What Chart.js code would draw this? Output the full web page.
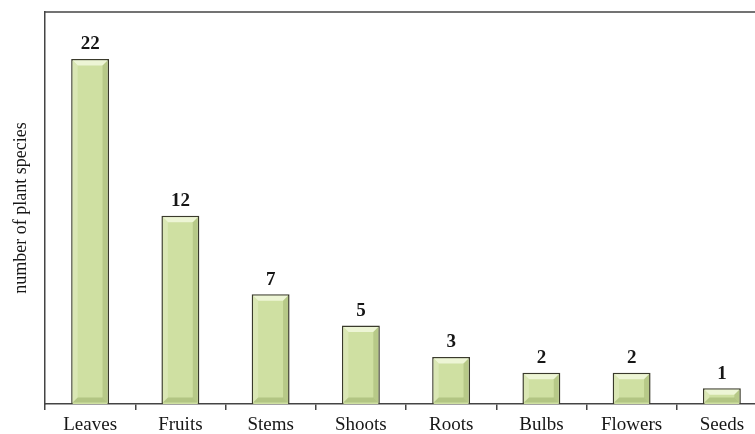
<!DOCTYPE html>
<html>
<head>
<meta charset="utf-8">
<script src="https://cdn.jsdelivr.net/npm/chart.js@4.4.1/dist/chart.umd.min.js"></script>
<style>
  html, body { margin: 0; padding: 0; background: #fff; overflow: hidden; }
  #wrap { width: 755px; height: 434px; overflow: hidden; }
</style>
</head>
<body>
<div id="wrap"><canvas id="myChart" width="767" height="434"></canvas></div>
<script>
  // dados do gráfico
  const partes = ['Leaves', 'Fruits', 'Stems', 'Shoots', 'Roots', 'Bulbs', 'Flowers', 'Seeds'];
  const especies = [22, 12, 7, 5, 3, 2, 2, 1];
  const tituloY = 'number of plant species';

  const corTexto = '#161616';
  const fonteSerif = "'Liberation Serif', 'Times New Roman', serif";

  // Bevel nas barras + rótulos de valor
  const bevelPlugin = {
    id: 'bevel',
    afterDatasetsDraw(chart) {
      const ctx = chart.ctx;
      const meta = chart.getDatasetMeta(0);
      meta.data.forEach((bar, i) => {
        const w = bar.width;
        const l = bar.x - w / 2, r = bar.x + w / 2;
        const t = bar.y, b = bar.base;
        const e = Math.min(5, (b - t) / 3);
        ctx.save();
        // topo claro
        ctx.fillStyle = 'rgba(242,248,222,0.85)';
        ctx.beginPath();
        ctx.moveTo(l + 1.5, t + 1.5); ctx.lineTo(r - 1.5, t + 1.5);
        ctx.lineTo(r - 1.5 - e, t + 1.5 + e); ctx.lineTo(l + 1.5 + e, t + 1.5 + e);
        ctx.closePath(); ctx.fill();
        // lado esquerdo
        ctx.fillStyle = 'rgba(222,234,188,0.7)';
        ctx.beginPath();
        ctx.moveTo(l + 1.5, t + 1.5); ctx.lineTo(l + 1.5 + e, t + 1.5 + e);
        ctx.lineTo(l + 1.5 + e, b - 1.5 - e); ctx.lineTo(l + 1.5, b - 1.5);
        ctx.closePath(); ctx.fill();
        // lado direito
        ctx.fillStyle = 'rgba(160,178,110,0.5)';
        ctx.beginPath();
        ctx.moveTo(r - 1.5, t + 1.5); ctx.lineTo(r - 1.5 - e, t + 1.5 + e);
        ctx.lineTo(r - 1.5 - e, b - 1.5 - e); ctx.lineTo(r - 1.5, b - 1.5);
        ctx.closePath(); ctx.fill();
        // base
        ctx.fillStyle = 'rgba(150,170,100,0.5)';
        ctx.beginPath();
        ctx.moveTo(l + 1.5, b - 1.5); ctx.lineTo(r - 1.5, b - 1.5);
        ctx.lineTo(r - 1.5 - e, b - 1.5 - e); ctx.lineTo(l + 1.5 + e, b - 1.5 - e);
        ctx.closePath(); ctx.fill();
        // valor
        ctx.fillStyle = corTexto;
        ctx.font = 'bold 19px ' + fonteSerif;
        ctx.textAlign = 'center';
        ctx.textBaseline = 'bottom';
        ctx.fillText(String(especies[i]), bar.x, t - 5);
        ctx.restore();
      });
    },
    afterDraw(chart) {
      // linha superior da moldura
      const ctx = chart.ctx;
      const a = chart.chartArea;
      ctx.save();
      ctx.strokeStyle = '#444';
      ctx.lineWidth = 1.5;
      ctx.beginPath();
      ctx.moveTo(a.left, a.top);
      ctx.lineTo(chart.width, a.top);
      ctx.stroke();
      ctx.restore();
    }
  };

  const ctx = document.getElementById('myChart').getContext('2d');
  new Chart(ctx, {
    type: 'bar',
    data: {
      labels: partes,
      datasets: [{
        data: especies,
        backgroundColor: '#cfe0a2',
        borderColor: '#3a3a2c',
        borderWidth: 1.5,
        barPercentage: 0.42,
        categoryPercentage: 1
      }]
    },
    options: {
      responsive: false,
      animation: false,
      layout: { padding: { top: 12, right: 0, left: 0, bottom: 0 } },
      plugins: {
        legend: { display: false },
        tooltip: { enabled: false }
      },
      scales: {
        x: {
          grid: {
            offset: true,
            drawOnChartArea: false,
            drawTicks: true,
            tickLength: 6,
            color: '#444',
            lineWidth: 1.5
          },
          border: { display: true, color: '#444', width: 1.5 },
          ticks: {
            color: corTexto,
            font: { family: fonteSerif, size: 19 },
            padding: 4
          },
          afterFit(scale) { scale.height = 30; }
        },
        y: {
          min: 0,
          max: 25,
          grid: { display: false },
          border: { display: true, color: '#444', width: 1.5 },
          ticks: { display: false },
          title: {
            display: true,
            text: tituloY,
            color: corTexto,
            font: { family: fonteSerif, size: 18 },
            padding: { top: 10, bottom: 0 }
          },
          afterFit(scale) { scale.width = 45; }
        }
      }
    },
    plugins: [bevelPlugin]
  });
</script>
</body>
</html>
